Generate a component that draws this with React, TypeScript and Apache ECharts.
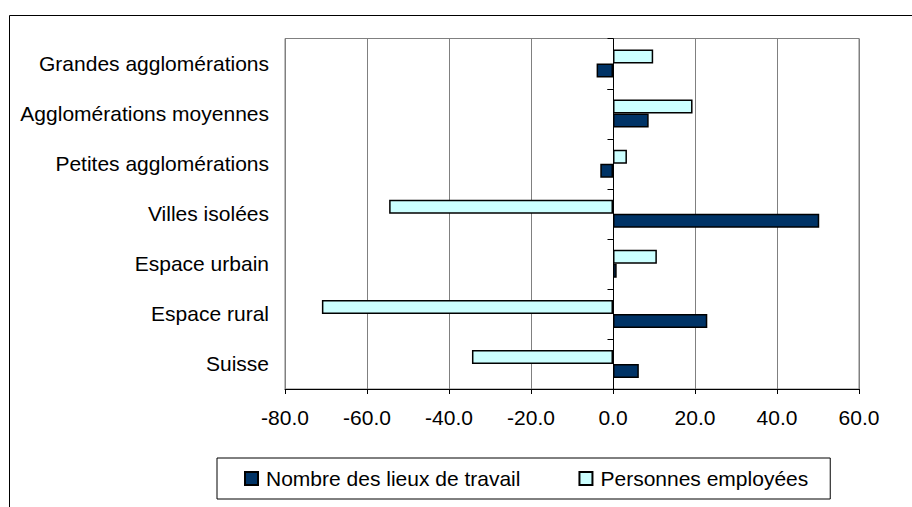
import React, { useEffect, useRef } from "react";
import * as echarts from "echarts";

const categories = [
  "Grandes agglomérations",
  "Agglomérations moyennes",
  "Petites agglomérations",
  "Villes isolées",
  "Espace urbain",
  "Espace rural",
  "Suisse",
];
const lieuxDeTravail = [-4.0, 8.7, -3.1, 50.3, 0.9, 23.0, 6.3];
const personnesEmployees = [9.8, 19.4, 3.4, -54.6, 10.7, -71.0, -34.4];
const seriesNames = ["Nombre des lieux de travail", "Personnes employées"];
const xMin = -80;
const xMax = 60;
const xStep = 20;

const FONT = "'Liberation Sans', Arial, sans-serif";

export default function App() {
  const ref = useRef<HTMLDivElement>(null);
  useEffect(() => {
    if (!ref.current) return;
    const chart = echarts.init(ref.current, null, { renderer: "svg" });
    const cats = [...categories].reverse();
    const lieux = [...lieuxDeTravail].reverse();
    const pers = [...personnesEmployees].reverse();
    const n = cats.length;
    chart.setOption({
      animation: false,
      backgroundColor: "#fff",
      textStyle: { fontFamily: FONT },
      graphic: [
        {
          type: "rect",
          shape: { x: 9.5, y: 15.5, width: 1000, height: 600 },
          style: { fill: "none", stroke: "#000", lineWidth: 1 },
          silent: true,
          z: -10,
        },
      ],
      grid: {
        left: 285,
        right: 53,
        top: 38.5,
        bottom: 118,
        show: true,
        borderColor: "#808080",
        borderWidth: 1,
        containLabel: false,
        outerBoundsMode: "none",
      },
      legend: {
        left: 217,
        top: 458,
        orient: "horizontal",
        itemWidth: 13,
        itemHeight: 13,
        itemGap: 58,
        padding: [10, 22, 10, 27],
        borderColor: "#000",
        borderWidth: 1,
        icon: "rect",
        textStyle: { fontSize: 21, color: "#000", fontFamily: FONT, padding: [0, 0, 0, 3] },
        data: seriesNames,
      },
      xAxis: {
        type: "value",
        min: xMin,
        max: xMax,
        interval: xStep,
        axisLine: { show: true, onZero: false, lineStyle: { color: "#000", width: 1 } },
        axisTick: { show: true, length: 5, lineStyle: { color: "#000" } },
        axisLabel: {
          fontSize: 21,
          color: "#000",
          fontFamily: FONT,
          margin: 18,
          formatter: (v: number) => v.toFixed(1),
        },
        splitLine: { show: true, lineStyle: { color: "#808080", width: 1 } },
      },
      yAxis: {
        type: "category",
        data: cats,
        position: "left",
        axisLine: { show: false, onZero: false },
        axisTick: { show: false },
        axisLabel: { fontSize: 21, color: "#000", fontFamily: FONT, margin: 16 },
        splitLine: { show: false },
      },
      series: [
        {
          name: seriesNames[1],
          type: "bar",
          data: pers,
          barWidth: 14,
          barGap: "0%",
          itemStyle: { color: "#CCFFFF", borderColor: "#000", borderWidth: 1.5 },
        },
        {
          name: seriesNames[0],
          type: "bar",
          data: lieux,
          barWidth: 14,
          barGap: "0%",
          itemStyle: { color: "#003366", borderColor: "#000", borderWidth: 1.5 },
        },
        {
          type: "custom",
          silent: true,
          z: 5,
          data: cats.map((_, i) => [0, i]),
          renderItem: (params: any, api: any) => {
            const idx = api.value(1);
            const c = api.coord([0, idx]);
            const h = api.size([0, 1])[1];
            const x = Math.round(c[0]) + 0.5;
            const top = c[1] - h / 2;
            const bottom = c[1] + h / 2;
            const children: any[] = [
              {
                type: "line",
                shape: { x1: x, y1: top, x2: x, y2: bottom },
                style: { stroke: "#000", lineWidth: 1 },
              },
              {
                type: "line",
                shape: { x1: x - 6, y1: Math.round(top) + 0.5, x2: x, y2: Math.round(top) + 0.5 },
                style: { stroke: "#000", lineWidth: 1 },
              },
            ];
            if (idx === 0 || idx === n - 1) {
              children.push({
                type: "line",
                shape: { x1: x - 6, y1: Math.round(bottom) + 0.5, x2: x, y2: Math.round(bottom) + 0.5 },
                style: { stroke: "#000", lineWidth: 1 },
              });
            }
            return { type: "group", children };
          },
        },
      ],
    });
    return () => chart.dispose();
  }, []);
  return (
    <div
      ref={ref}
      style={{ position: "fixed", left: 0, top: 0, width: 912, height: 507, background: "#fff" }}
    />
  );
}
